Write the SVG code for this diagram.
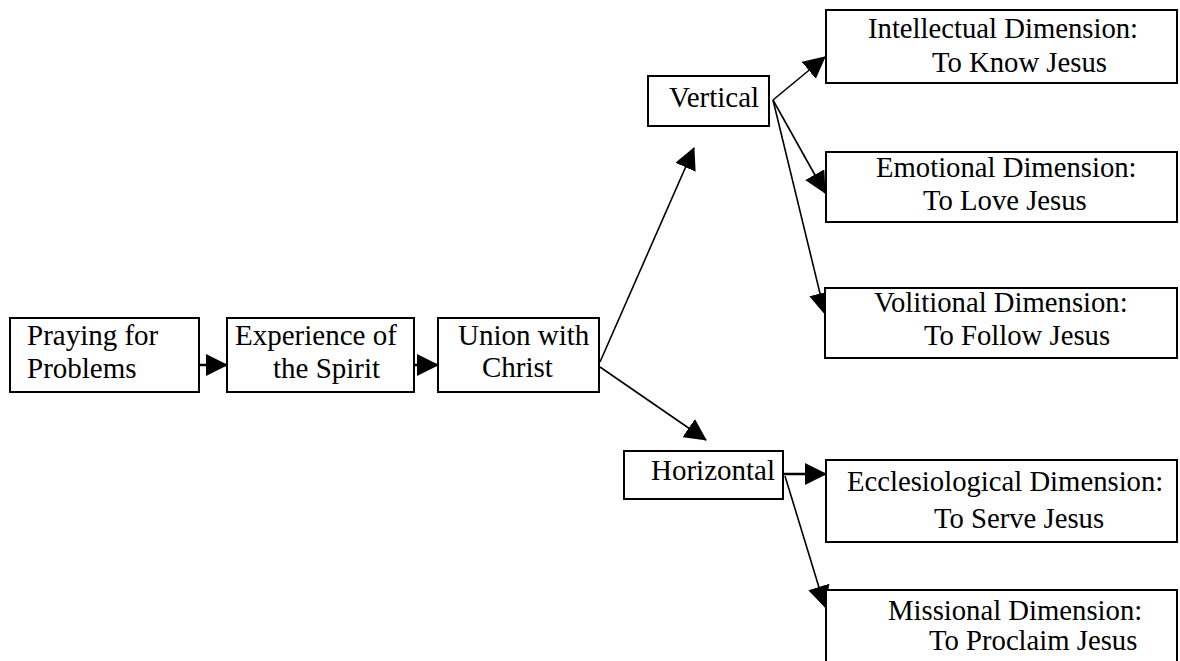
<svg xmlns="http://www.w3.org/2000/svg" width="1180" height="661" viewBox="0 0 1180 661">
<style>
.box{fill:#fff;stroke:#000;stroke-width:2}
.t{font-family:"Liberation Serif","Times New Roman",serif;font-size:29px;fill:#000}
.r{font-size:28.7px}
.c{stroke:#000;stroke-width:1.6;fill:none;marker-end:url(#ah)}
.s{stroke-width:2.5}
</style>
<defs>
<marker id="ah" markerUnits="userSpaceOnUse" markerWidth="22" markerHeight="22" viewBox="0 0 22 22" refX="21" refY="11" orient="auto">
<path d="M0,0 L22,11 L0,22 z" fill="#000"/>
</marker>
</defs>
<rect width="1180" height="661" fill="#fff"/>
<g id="connectors">
<line class="c s" x1="199" y1="365" x2="227" y2="365"/>
<line class="c s" x1="414" y1="365" x2="438" y2="365"/>
<line class="c" x1="600" y1="362" x2="694" y2="148"/>
<line class="c" x1="600" y1="367" x2="706" y2="440"/>
<line class="c" x1="773" y1="100" x2="825" y2="57"/>
<line class="c" x1="773" y1="100" x2="825" y2="193"/>
<line class="c" x1="773" y1="100" x2="825" y2="314"/>
<line class="c s" x1="783" y1="474" x2="826" y2="474"/>
<line class="c" x1="785" y1="476" x2="825" y2="607"/>
</g>
<g id="praying">
<rect class="box" x="10" y="318" width="189" height="74"/>
<text class="t" x="27" y="345">Praying for</text>
<text class="t" x="27" y="378">Problems</text>
</g>
<g id="experience">
<rect class="box" x="227" y="318" width="187" height="74"/>
<text class="t" x="235" y="345">Experience of</text>
<text class="t" x="273" y="378">the Spirit</text>
</g>
<g id="union">
<rect class="box" x="438" y="318" width="161" height="74"/>
<text class="t" x="458" y="345">Union with</text>
<text class="t" x="482" y="377">Christ</text>
</g>
<g id="vertical">
<rect class="box" x="648" y="76" width="121" height="50"/>
<text class="t" x="669" y="107">Vertical</text>
</g>
<g id="horizontal">
<rect class="box" x="624" y="451" width="159" height="48"/>
<text class="t" x="651" y="480">Horizontal</text>
</g>
<g id="intellectual">
<rect class="box" x="826" y="10" width="351" height="73"/>
<text class="t r" x="868" y="38">Intellectual Dimension:</text>
<text class="t r" x="932" y="72">To Know Jesus</text>
</g>
<g id="emotional">
<rect class="box" x="826" y="152" width="351" height="70"/>
<text class="t r" x="876" y="177">Emotional Dimension:</text>
<text class="t r" x="923" y="210">To Love Jesus</text>
</g>
<g id="volitional">
<rect class="box" x="825" y="288" width="352" height="70"/>
<text class="t r" x="874" y="312">Volitional Dimension:</text>
<text class="t r" x="924" y="345">To Follow Jesus</text>
</g>
<g id="ecclesiological">
<rect class="box" x="826" y="460" width="351" height="82"/>
<text class="t r" x="847" y="491">Ecclesiological Dimension:</text>
<text class="t r" x="934" y="528">To Serve Jesus</text>
</g>
<g id="missional">
<rect class="box" x="826" y="590" width="351" height="80"/>
<text class="t r" x="888" y="620">Missional Dimension:</text>
<text class="t r" x="929" y="650">To Proclaim Jesus</text>
</g>
</svg>
